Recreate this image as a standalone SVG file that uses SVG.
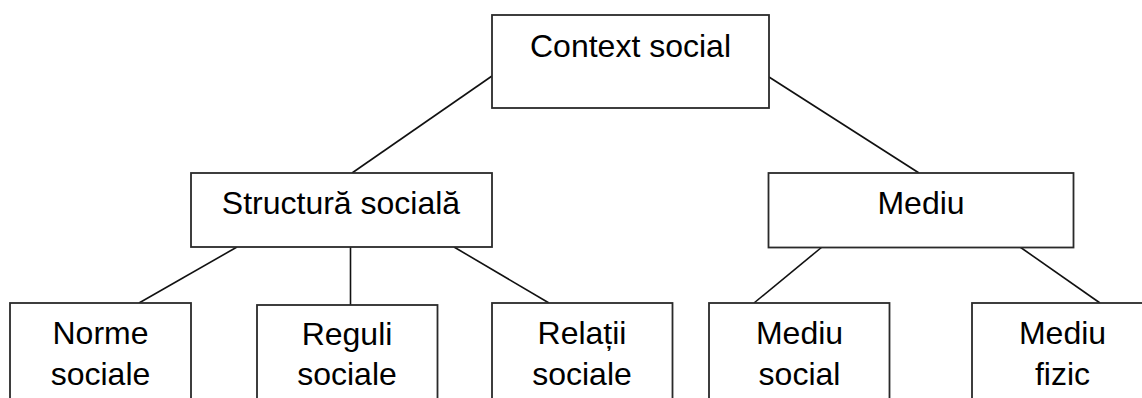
<svg xmlns="http://www.w3.org/2000/svg" width="1142" height="398" viewBox="0 0 1142 398">
  <style>
    .box { fill: #ffffff; stroke: #2a2a2a; stroke-width: 1.8; }
    .edge { stroke: #111111; stroke-width: 1.6; fill: none; }
    .label { font-family: "Liberation Sans", Arial, sans-serif; font-size: 32px; fill: #000000; text-anchor: middle; }
  </style>
  <rect width="1142" height="398" fill="#ffffff"/>

  <!-- connectors -->
  <g id="connectors">
    <line class="edge" x1="492" y1="76" x2="352" y2="173"/>
    <line class="edge" x1="769" y1="77" x2="919" y2="173"/>
    <line class="edge" x1="237" y1="247" x2="139" y2="303"/>
    <line class="edge" x1="350.5" y1="247" x2="350.5" y2="305"/>
    <line class="edge" x1="454" y1="247" x2="549" y2="303"/>
    <line class="edge" x1="822" y1="247" x2="754" y2="303"/>
    <line class="edge" x1="1020" y1="247" x2="1100" y2="303"/>
  </g>

  <!-- root -->
  <g id="context-social">
    <rect class="box" x="492" y="15" width="277" height="93"/>
    <text class="label" x="630.5" y="56.5">Context social</text>
  </g>

  <!-- second level -->
  <g id="structura-sociala">
    <rect class="box" x="191" y="173" width="301" height="74"/>
    <text class="label" x="341" y="213.5">Structură socială</text>
  </g>
  <g id="mediu">
    <rect class="box" x="768.5" y="173" width="305" height="74.5"/>
    <text class="label" x="921" y="213.5">Mediu</text>
  </g>

  <!-- leaves -->
  <g id="norme-sociale">
    <rect class="box" x="10" y="303" width="181" height="110"/>
    <text class="label" x="100.5" y="343.5">Norme</text>
    <text class="label" x="100.5" y="384.5">sociale</text>
  </g>
  <g id="reguli-sociale">
    <rect class="box" x="257" y="305" width="180.5" height="110"/>
    <text class="label" x="347" y="345">Reguli</text>
    <text class="label" x="347" y="385">sociale</text>
  </g>
  <g id="relatii-sociale">
    <rect class="box" x="492" y="303" width="180.5" height="110"/>
    <text class="label" x="582" y="343.5">Relații</text>
    <text class="label" x="582" y="384.5">sociale</text>
  </g>
  <g id="mediu-social">
    <rect class="box" x="709" y="303" width="180.5" height="110"/>
    <text class="label" x="799.5" y="344">Mediu</text>
    <text class="label" x="799.5" y="384.5">social</text>
  </g>
  <g id="mediu-fizic">
    <rect class="box" x="972" y="303" width="181" height="110"/>
    <text class="label" x="1062.5" y="344">Mediu</text>
    <text class="label" x="1062.5" y="384.5">fizic</text>
  </g>
</svg>
